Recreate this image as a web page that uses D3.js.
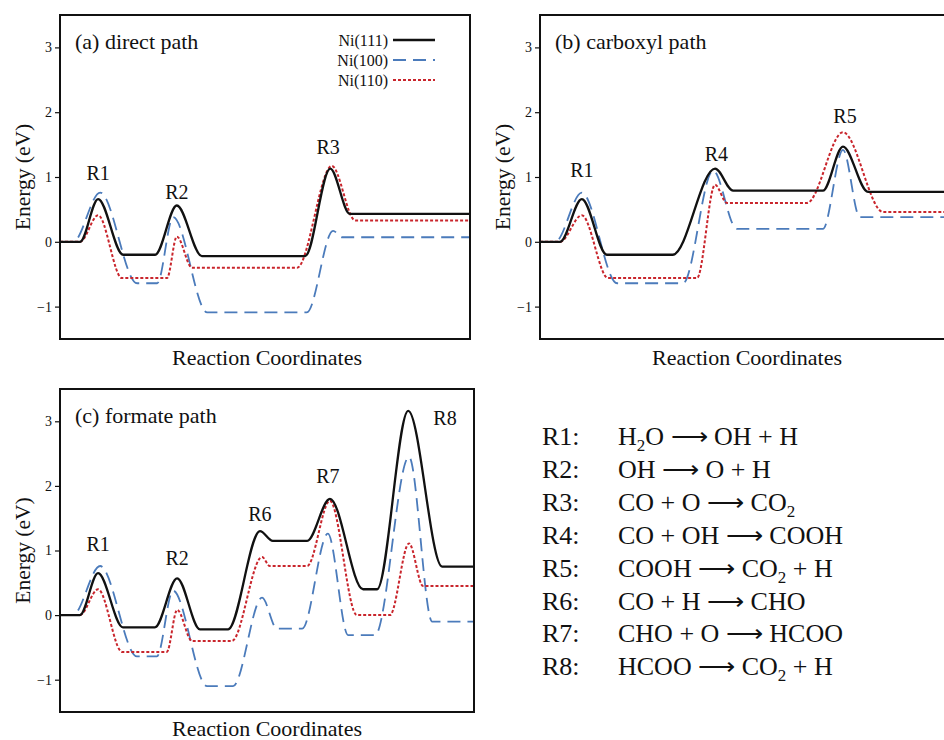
<!DOCTYPE html>
<html>
<head>
<meta charset="utf-8">
<script src="https://cdnjs.cloudflare.com/ajax/libs/d3/7.8.5/d3.min.js"></script>
<style>
  body { margin: 0; background: #fff; }
</style>
</head>
<body>
<svg id="chart" width="944" height="740"></svg>
<script>
// reaction coordinate (0..100) and energy (eV) of each profile's control points
var surfaces = ["Ni(111)", "Ni(100)", "Ni(110)"];
var energyTicks = [-1, 0, 1, 2, 3];

var directNi111 = [[0,0],[4.9,0],[9.3,0.66],[15.4,-0.2],[23.2,-0.2],[28.5,0.56],[34.6,-0.22],[59.8,-0.22],[65.9,1.13],[70.7,0.43],[100,0.43]];
var directNi100 = [[0,0],[3.2,0],[9.8,0.76],[18.8,-0.64],[23.7,-0.64],[27.6,0.38],[35.9,-1.09],[60.2,-1.09],[66.6,0.17],[68.8,0.07],[100,0.07]];
var directNi110 = [[0,0],[4.9,0],[9.3,0.41],[15.1,-0.56],[26.1,-0.56],[28.5,0.08],[32.2,-0.4],[57.8,-0.4],[66.3,1.17],[72.0,0.33],[100,0.33]];

var carboxylNi111 = [[0,0],[4.9,0],[10.2,0.66],[16.3,-0.2],[32.4,-0.2],[42.7,1.13],[47.1,0.79],[69.0,0.79],[73.9,1.47],[80.0,0.77],[100,0.77]];
var carboxylNi100 = [[0,0],[3.7,0],[10.2,0.76],[18.8,-0.64],[34.9,-0.64],[42.2,1.1],[48.0,0.2],[69.0,0.2],[73.9,1.42],[78.0,0.38],[100,0.38]];
var carboxylNi110 = [[0,0],[4.9,0],[10.2,0.41],[16.6,-0.56],[38.3,-0.56],[42.7,0.88],[45.6,0.6],[65.1,0.6],[73.9,1.69],[83.7,0.46],[100,0.46]];

var formateNi111 = [[0,0],[4.8,0],[9.2,0.65],[15.2,-0.19],[22.9,-0.19],[28.3,0.57],[33.8,-0.22],[40.6,-0.22],[48.3,1.3],[51.4,1.15],[59.7,1.15],[65.2,1.8],[73.2,0.4],[76.6,0.4],[84.1,3.16],[92.3,0.75],[100,0.75]];
var formateNi100 = [[0,0],[3.1,0],[9.7,0.76],[18.6,-0.64],[23.4,-0.64],[27.3,0.38],[35.5,-1.1],[41.8,-1.1],[48.8,0.27],[52.4,-0.21],[58.5,-0.21],[64.7,1.26],[69.6,-0.31],[76.1,-0.31],[84.3,2.45],[89.9,-0.1],[100,-0.1]];
var formateNi110 = [[0,0],[4.8,0],[9.2,0.4],[15.0,-0.57],[25.8,-0.57],[28.3,0.08],[31.9,-0.4],[41.5,-0.4],[48.8,0.9],[50.7,0.76],[59.7,0.76],[65.2,1.77],[71.7,0.0],[79.7,0.0],[84.3,1.11],[87.7,0.45],[100,0.45]];

// step labels: name, reaction coordinate, energy of baseline
var directLabels = [["R1",9.3,0.95],["R2",28.5,0.66],["R3",65.4,1.35]];
var carboxylLabels = [["R1",10.2,1.0],["R4",43.0,1.24],["R5",74.4,1.83]];
var formateLabels = [["R1",9.2,1.0],["R2",28.3,0.77],["R6",48.3,1.46],["R7",64.7,2.04],["R8",93.0,2.95]];

var reactionNames = ["R1:", "R2:", "R3:", "R4:", "R5:", "R6:", "R7:", "R8:"];
// each equation as [text, isSubscript] pieces
var reactionEquations = [
  [["H",0],["2",1],["O \u27F6 OH + H",0]],
  [["OH \u27F6 O + H",0]],
  [["CO + O \u27F6 CO",0],["2",1]],
  [["CO + OH \u27F6 COOH",0]],
  [["COOH \u27F6 CO",0],["2",1],[" + H",0]],
  [["CO + H \u27F6 CHO",0]],
  [["CHO + O \u27F6 HCOO",0]],
  [["HCOO \u27F6 CO",0],["2",1],[" + H",0]]
];

var serif = "'Liberation Serif'";
var colors = {"Ni(111)": "#111111", "Ni(100)": "#4b7bbb", "Ni(110)": "#c9252c"};
var dashes = {"Ni(111)": null, "Ni(100)": "13,7", "Ni(110)": "3,2"};
var widths = {"Ni(111)": 2.3, "Ni(100)": 1.8, "Ni(110)": 2};

var svg = d3.select("#chart");

function addText(sel, size){
    return sel.append("text")
        .style("font-family", serif)
        .style("font-size", size + "px")
        .attr("fill", "#111");
}

function drawPanel(cfg){
    var g = svg.append("g")
        .attr("transform", "translate(" + cfg.left + "," + cfg.top + ")");

    var x = d3.scaleLinear().domain([0, 100]).range([0, cfg.width]);
    var y = d3.scaleLinear().domain([-1.5, 3.5]).range([cfg.height, 0]);

    var clipId = "clip" + cfg.id;
    g.append("clipPath")
        .attr("id", clipId)
        .append("rect")
        .attr("width", cfg.width)
        .attr("height", cfg.height);

    var yAxis = d3.axisLeft(y)
        .tickValues(energyTicks)
        .tickSize(5)
        .tickPadding(3)
        .tickFormat(function(d){ return d < 0 ? "\u2212" + Math.abs(d) : d; });

    var ax = g.append("g").call(yAxis);
    ax.select(".domain").remove();
    ax.selectAll("text")
        .style("font-family", serif)
        .style("font-size", "14px")
        .attr("fill", "#111");
    ax.selectAll("line").attr("stroke", "#111").attr("stroke-width", 1.2);

    var line = d3.line()
        .x(function(d){ return x(d[0]); })
        .y(function(d){ return y(d[1]); })
        .curve(d3.curveMonotoneX);

    var curves = g.append("g").attr("clip-path", "url(#" + clipId + ")");
    // draw in order blue, red, black so black sits on top
    [1, 2, 0].forEach(function(i){
        var name = surfaces[i];
        curves.append("path")
            .datum(cfg.series[i])
            .attr("d", line)
            .attr("fill", "none")
            .attr("stroke", colors[name])
            .attr("stroke-width", widths[name])
            .attr("stroke-dasharray", dashes[name]);
    });

    cfg.labels.forEach(function(d){
        addText(g, 20)
            .attr("x", x(d[1]))
            .attr("y", y(d[2]))
            .attr("text-anchor", "middle")
            .text(d[0]);
    });

    g.append("rect")
        .attr("width", cfg.width)
        .attr("height", cfg.height)
        .attr("fill", "none")
        .attr("stroke", "#111")
        .attr("stroke-width", 2);

    addText(g, 22)
        .attr("x", 15)
        .attr("y", 34)
        .text(cfg.title);

    addText(g, 21.5)
        .attr("transform", "translate(-30," + (cfg.height / 2) + ") rotate(-90)")
        .attr("text-anchor", "middle")
        .text("Energy (eV)");

    addText(g, 22)
        .attr("x", 207)
        .attr("y", cfg.height + cfg.xLabelGap)
        .attr("text-anchor", "middle")
        .text("Reaction Coordinates");

    if (cfg.legend){
        var lg = g.append("g").attr("transform", "translate(328,25)");
        surfaces.forEach(function(name, i){
            addText(lg, 16)
                .attr("x", 0)
                .attr("y", i * 20 + 5.5)
                .attr("text-anchor", "end")
                .text(name);
            lg.append("line")
                .attr("x1", 5).attr("x2", 47)
                .attr("y1", i * 20).attr("y2", i * 20)
                .attr("stroke", colors[name])
                .attr("stroke-width", widths[name])
                .attr("stroke-dasharray", dashes[name]);
        });
    }
}

drawPanel({id: "a", left: 60, top: 15, width: 410, height: 324, xLabelGap: 26,
    series: [directNi111, directNi100, directNi110],
    labels: directLabels, title: "(a) direct path", legend: true});

drawPanel({id: "b", left: 540, top: 15, width: 410, height: 324, xLabelGap: 26,
    series: [carboxylNi111, carboxylNi100, carboxylNi110],
    labels: carboxylLabels, title: "(b) carboxyl path", legend: false});

drawPanel({id: "c", left: 60, top: 389, width: 414, height: 323, xLabelGap: 24,
    series: [formateNi111, formateNi100, formateNi110],
    labels: formateLabels, title: "(c) formate path", legend: false});

// reaction list
var list = svg.append("g").attr("transform", "translate(542,445)");
reactionNames.forEach(function(name, i){
    addText(list, 26)
        .attr("x", 0)
        .attr("y", i * 32.9)
        .text(name);
    var t = addText(list, 26)
        .attr("x", 76)
        .attr("y", i * 32.9);
    var wasSub = false;
    reactionEquations[i].forEach(function(p){
        var ts = t.append("tspan").text(p[0]);
        if (p[1]) {
            ts.style("font-size", "17px").attr("dy", 6);
        } else if (wasSub) {
            ts.attr("dy", -6);
        }
        wasSub = !!p[1];
    });
});
</script>
</body>
</html>
